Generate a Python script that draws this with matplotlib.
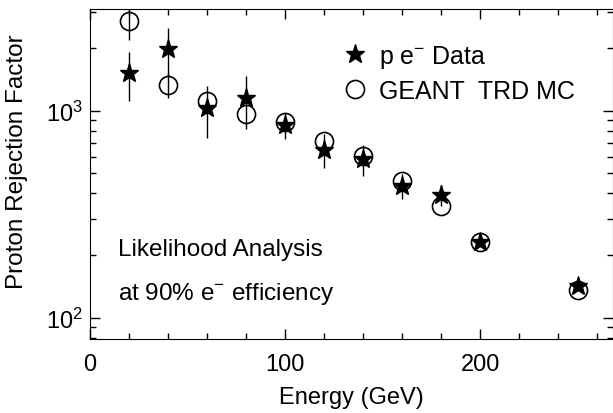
import matplotlib
matplotlib.use("Agg")
import matplotlib.pyplot as plt
from matplotlib.lines import Line2D
from matplotlib.ticker import MultipleLocator, LogLocator, NullFormatter

plt.rcParams['font.family'] = ['Liberation Sans', 'DejaVu Sans']
plt.rcParams['mathtext.fontset'] = 'custom'
plt.rcParams['mathtext.rm'] = 'Liberation Sans'
plt.rcParams['mathtext.it'] = 'Liberation Sans'

# energies (GeV)
energy = [20, 40, 60, 80, 100, 120, 140, 160, 180, 200, 250]
# p e- data, with errors
data_val = [1514, 1982, 1025, 1145, 852, 648, 585, 435, 393, 232, 143]
data_err = [405, 520, 290, 325, 125, 120, 100, 60, 45, 10, 8]
# GEANT TRD Monte Carlo
mc_val = [2715, 1337, 1115, 962, 877, 716, 606, 455, 346, 232, 136]
mc_err = [515, 185, 0, 0, 0, 0, 0, 0, 0, 0, 0]

fig = plt.figure(figsize=(6.13, 4.14), dpi=100)
ax = fig.add_axes([0.147, 0.179, 0.853, 0.797])

ax.errorbar(energy, mc_val, yerr=mc_err, fmt='o', ms=13, mfc='none', mec='black',
            mew=1.2, ecolor='black', elinewidth=1.0, capsize=0, zorder=2)
ax.errorbar(energy, data_val, yerr=data_err, fmt='*', ms=14, mfc='black', mec='black',
            ecolor='black', elinewidth=1.0, capsize=0, zorder=3)

ax.set_yscale('log')
ax.set_xlim(0, 268)
ax.set_ylim(79, 3100)
ax.xaxis.set_major_locator(MultipleLocator(100))
ax.xaxis.set_minor_locator(MultipleLocator(20))
ax.yaxis.set_major_locator(LogLocator(base=10))
ax.yaxis.set_minor_locator(LogLocator(base=10, subs=range(2, 10)))
ax.yaxis.set_minor_formatter(NullFormatter())
ax.tick_params(which='both', direction='in', top=True, right=True, labelsize=17)
ax.tick_params(which='major', length=7, width=1)
ax.tick_params(which='minor', length=4, width=1)
ax.tick_params(axis='x', pad=10)
ax.tick_params(axis='y', pad=5)

ax.set_xlabel('Energy (GeV)', fontsize=17, labelpad=8)
ax.set_ylabel('Proton Rejection Factor', fontsize=17.5)
ax.yaxis.set_label_coords(-0.118, 0.54)

ax.text(0.054, 0.273, 'Likelihood Analysis', transform=ax.transAxes,
        fontsize=17.5, va='center', ha='left')
ax.text(0.054, 0.14, 'at 90% e$^{-}$ efficiency', transform=ax.transAxes,
        fontsize=17.5, va='center', ha='left')

handles = [Line2D([], [], ls='none', marker='*', ms=14, mfc='black', mec='black'),
           Line2D([], [], ls='none', marker='o', ms=13, mfc='none', mec='black', mew=1.2)]
ax.legend(handles, ['p e$^{-}$ Data', 'GEANT  TRD MC'], loc='upper left',
          bbox_to_anchor=(0.44, 0.965), frameon=False, fontsize=18,
          handlelength=1.0, handletextpad=0.45, labelspacing=0.35)

fig.savefig('out.png', dpi=100)
